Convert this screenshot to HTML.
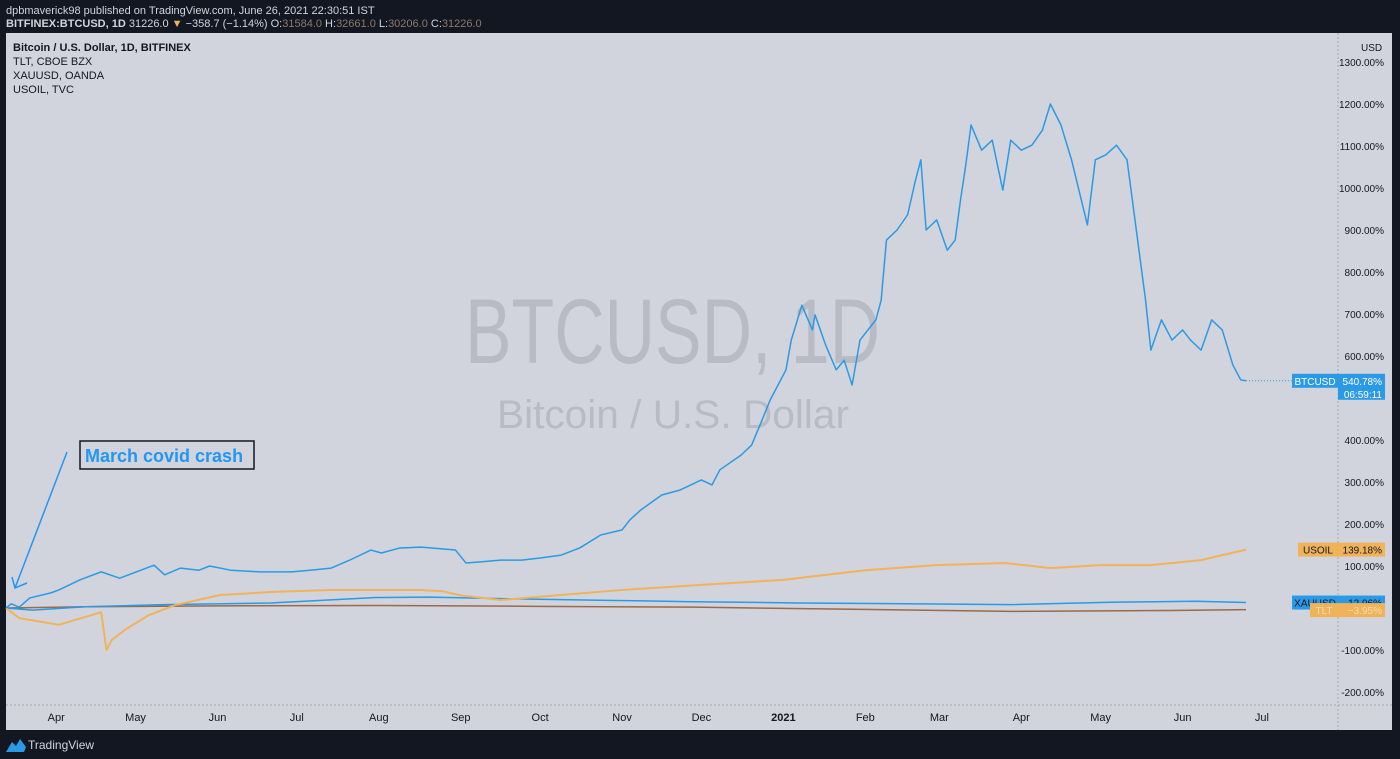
<!DOCTYPE html>
<html><head><meta charset="utf-8"><style>
body{margin:0;background:#131722;width:1400px;height:759px;overflow:hidden;font-family:"Liberation Sans",sans-serif}
svg{position:absolute;left:0;top:0}
</style></head><body>
<svg width="1400" height="759" id="svg">
<rect x="0" y="0" width="1400" height="759" fill="#131722"/>
<text x="6" y="14" fill="#d1d4dc" font-size="11">dpbmaverick98 published on TradingView.com, June 26, 2021 22:30:51 IST</text>
<text x="6" y="27" fill="#d1d4dc" font-size="11" font-weight="bold">BITFINEX:BTCUSD, 1D <tspan font-weight="normal">31226.0 <tspan fill="#f0b35a">▼</tspan> −358.7 (−1.14%) O:<tspan fill="#8d7a6a">31584.0</tspan> H:<tspan fill="#8d7a6a">32661.0</tspan> L:<tspan fill="#8d7a6a">30206.0</tspan> C:<tspan fill="#8d7a6a">31226.0</tspan></tspan></text>
<rect x="6" y="33" width="1386" height="697" fill="#d1d4dc"/>
<line x1="1338" y1="33" x2="1338" y2="730" stroke="#aaa" stroke-dasharray="2,2"/>
<line x1="6" y1="705" x2="1392" y2="705" stroke="#aaa" stroke-dasharray="2,2"/>
<text x="465" y="363" fill="#b8bbc3" font-size="92" textLength="415" lengthAdjust="spacingAndGlyphs">BTCUSD, 1D</text>
<text x="497" y="428" fill="#b8bbc3" font-size="40" textLength="352" lengthAdjust="spacingAndGlyphs">Bitcoin / U.S. Dollar</text>
<g font-size="11" fill="#131722">
<text x="13" y="51" font-weight="bold">Bitcoin / U.S. Dollar, 1D, BITFINEX</text>
<text x="13" y="65">TLT, CBOE BZX</text>
<text x="13" y="79">XAUUSD, OANDA</text>
<text x="13" y="93">USOIL, TVC</text>
</g>
<text x="1361" y="51" font-size="10" fill="#131722">USD</text>
<g id="yaxis" font-size="10" fill="#131722"></g>
<g id="xaxis" font-size="11" fill="#131722"></g>
<g id="series"></g>
<g>
<line x1="67" y1="452" x2="15" y2="588" stroke="#2196f3" stroke-width="1.5"/>
<polyline points="12,577 15,588 27,583" fill="none" stroke="#2196f3" stroke-width="1.5"/>
<rect x="80" y="441" width="174" height="28" fill="#d1d4dc" stroke="#131722" stroke-width="1.5"/>
<text x="85" y="462" font-size="18" font-weight="bold" fill="#2196f3">March covid crash</text>
</g>
<g id="tags" font-size="10"></g>
<rect x="0" y="730" width="1400" height="29" fill="#131722"/>
<path d="M6,752 L12,742 L16,746 L20,739 L26,747 L24,752 Z" fill="#2a9ae6"/>
<text x="28" y="749" font-size="12" fill="#d1d4dc">TradingView</text>
</svg>
<script>
const yTicks=[1300,1200,1100,1000,900,800,700,600,400,300,200,100,-100,-200];
const monthLabels=["Apr","May","Jun","Jul","Aug","Sep","Oct","Nov","Dec","2021","Feb","Mar","Apr","May","Jun","Jul"];
const monthDays=[19,49,80,110,141,172,202,233,263,294,325,353,384,414,445,475];
const btcDays=[0,2,5,9,17,20,28,36,43,51,56,60,66,73,77,85,96,108,115,123,130,138,142,149,157,161,170,174,180,187,195,202,210,217,225,233,236,240,248,255,263,267,270,278,282,286,289,295,297,301,305,306,310,314,317,320,323,329,331,333,337,341,344,346,348,352,356,359,361,363,365,369,373,377,380,384,388,392,395,399,403,409,412,416,420,424,428,431,433,437,441,445,448,452,456,460,464,467,469];
const btcVals=[0,10,2,24,36,43,67,86,71,90,102,79,95,90,100,90,86,86,90,95,114,138,131,143,145,143,138,107,110,114,114,119,126,143,174,186,210,233,269,281,305,293,329,364,388,448,495,567,638,721,662,698,626,567,590,531,638,686,733,876,900,936,1019,1067,900,924,852,876,971,1055,1150,1090,1114,995,1114,1090,1102,1138,1200,1150,1067,912,1067,1079,1102,1067,876,733,614,686,638,662,638,614,686,662,579,543,541];
const oilDays=[0,5,20,36,38,40,45,54,64,81,100,123,157,165,172,187,210,233,263,294,325,352,378,395,414,433,452,469];
const oilVals=[0,-24,-40,-10,-100,-76,-52,-17,7,31,38,43,43,40,30,19,31,43,55,67,90,102,107,95,102,102,114,139];
const xauDays=[0,10,30,60,100,140,160,190,230,260,300,340,380,420,450,469];
const xauVals=[0,-5,3,8,12,25,26,22,18,15,12,10,8,14,16,13];
const tltDays=[0,30,80,140,200,260,320,380,440,469];
const tltVals=[0,3,5,6,4,2,-3,-8,-6,-4];
const X=d=>6+(d*2.644);
const Y=v=>608-v*0.42;
const NS="http://www.w3.org/2000/svg";
function mk(tag,attrs,parent){const e=document.createElementNS(NS,tag);for(const k in attrs)e.setAttribute(k,attrs[k]);parent.appendChild(e);return e;}
const ya=document.getElementById('yaxis');
yTicks.forEach(v=>{const t=mk('text',{x:1384,y:Y(v)+4,'text-anchor':'end'},ya);t.textContent=v.toFixed(2)+'%';

});
const xa=document.getElementById('xaxis');
monthLabels.forEach((m,i)=>{const t=mk('text',{x:X(monthDays[i]),y:721,'text-anchor':'middle','font-weight':m==='2021'?'bold':'normal'},xa);t.textContent=m;

});
const sg=document.getElementById('series');
function line(days,vals,color,w,name){const p=mk('polyline',{points:days.map((d,i)=>X(d)+','+Y(vals[i])).join(' '),fill:'none',stroke:color,'stroke-width':w,'stroke-linejoin':'round'},sg);

}
line(tltDays,tltVals,'#9a6a4a',1.5,'tlt-line');
line(xauDays,xauVals,'#2a9ae6',1.5,'xauusd-line');
line(oilDays,oilVals,'#f0b35a',2,'usoil-line');
line(btcDays,btcVals,'#2a9ae6',1.5,'btcusd-line');
const last=btcVals[btcVals.length-1];
const dl=mk('line',{x1:X(btcDays[btcDays.length-1]),y1:Y(last),x2:1338,y2:Y(last),stroke:'#2a9ae6','stroke-dasharray':'1,2'},sg);


const tg=document.getElementById('tags');
function tag(name,val,v,bg,fg,w,extra){const y=Y(v);
const r=mk('rect',{x:1338-w,y:y-7,width:w,height:14,fill:bg},tg);
const r2=mk('rect',{x:1338,y:y-7,width:47,height:extra?26:14,fill:bg},tg);
const t=mk('text',{x:1338-w/2,y:y+4,'text-anchor':'middle',fill:fg},tg);t.textContent=name;
const t2=mk('text',{x:1382,y:y+4,'text-anchor':'end',fill:fg},tg);t2.textContent=val;
if(extra){const t3=mk('text',{x:1382,y:y+17,'text-anchor':'end',fill:fg},tg);t3.textContent=extra;}}
tag('BTCUSD','540.78%',last,'#2a9ae6','#fff',46,'06:59:11');
tag('USOIL','139.18%',139,'#f0b35a','#131722',40);
tag('XAUUSD','12.96%',13,'#2a9ae6','#131722',46);
tag('TLT','−3.95%',-5,'#f0b35a','#f5deb0',28);
</script>
</body></html>
